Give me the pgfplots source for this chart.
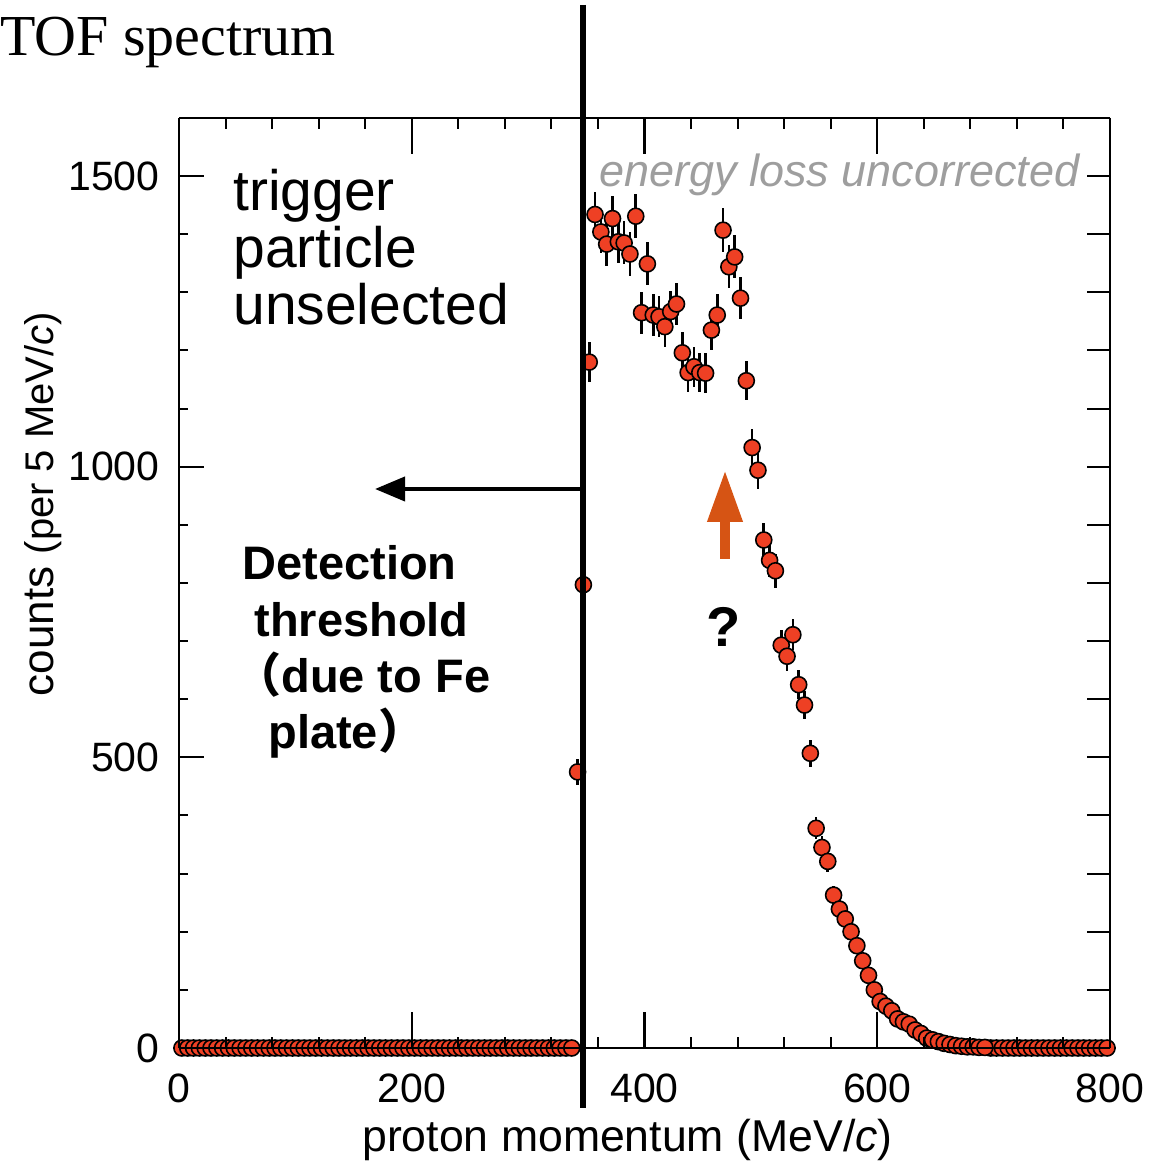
\documentclass[border=0pt]{standalone}
\usepackage{pgfplots}
\pgfplotsset{compat=1.18}
\usepackage{pgfplotstable}
\usetikzlibrary{arrows.meta}
\usepackage{fontspec}
\setmainfont{Liberation Sans}
\newfontfamily\serif{Liberation Serif}
\newfontfamily\cjk{Noto Sans CJK JP}

\definecolor{markred}{RGB}{238,64,36}
\definecolor{arroworange}{RGB}{214,84,20}

% momentum bin centre, counts per 5 MeV/c, statistical error
\pgfplotstableread{
x y e
342.5 475 22
347.5 797 28
352.5 1180 34
357.5 1434 38
362.5 1404 37
367.5 1383 37
372.5 1427 38
377.5 1387 37
382.5 1385 37
387.5 1366 37
392.5 1431 38
397.5 1265 36
402.5 1349 37
407.5 1261 36
412.5 1258 35
417.5 1241 35
422.5 1267 36
427.5 1280 36
432.5 1196 35
437.5 1162 34
442.5 1172 34
447.5 1162 34
452.5 1161 34
457.5 1235 35
462.5 1261 36
467.5 1407 38
472.5 1344 37
477.5 1361 37
482.5 1290 36
487.5 1148 34
492.5 1033 32
497.5 994 32
502.5 874 30
507.5 839 29
512.5 821 29
517.5 693 26
522.5 674 26
527.5 711 27
532.5 625 25
537.5 590 24
542.5 507 23
547.5 378 19
552.5 345 19
557.5 321 18
562.5 263 16
567.5 239 15
572.5 222 15
577.5 200 14
582.5 176 13
587.5 150 12
592.5 125 11
597.5 100 10
602.5 80 9
607.5 72 8
612.5 64 8
617.5 50 7
622.5 45 7
627.5 41 6
632.5 31 6
637.5 25 5
642.5 17 4
647.5 14 4
652.5 11 3
657.5 8 3
662.5 6 2
667.5 4 2
672.5 3 2
677.5 2 1
682.5 2 1
687.5 1 1
692.5 1 1
}\tofdata

\pgfplotsset{
  frame/.style={
    at={(89.5pt,59.5pt)}, anchor=south west,
    width=465.5pt, height=465pt, scale only axis,
    xmin=0, xmax=800, ymin=0, ymax=1600,
    tick align=inside,
    axis line style={line width=1pt, -},
    tick style={line width=1pt, black},
    tick label style={font=\fontsize{20.5}{20.5}\selectfont},
    /pgf/number format/assume math mode=true,
    /pgf/number format/1000 sep={},
  },
  xside/.style={frame, axis y line=none,
    xtick={0,200,...,800}, minor x tick num=4,
    major tick length=18pt, minor tick length=5.5pt},
  yside/.style={frame, axis x line=none},
  dots/.style={only marks, mark=*, mark size=4pt,
    mark options={fill=markred, draw=black, line width=0.8pt}},
}

\begin{document}
\begin{tikzpicture}
\useasboundingbox (0,0) rectangle (579pt,583.5pt);

% data
\begin{axis}[frame, hide axis, clip=false]
\addplot[dots] coordinates {
  (2.5,0) (7.5,0) (12.5,0) (17.5,0) (22.5,0) (27.5,0) (32.5,0) (37.5,0) (42.5,0) (47.5,0)
  (52.5,0) (57.5,0) (62.5,0) (67.5,0) (72.5,0) (77.5,0) (82.5,0) (87.5,0) (92.5,0) (97.5,0)
  (102.5,0) (107.5,0) (112.5,0) (117.5,0) (122.5,0) (127.5,0) (132.5,0) (137.5,0) (142.5,0) (147.5,0)
  (152.5,0) (157.5,0) (162.5,0) (167.5,0) (172.5,0) (177.5,0) (182.5,0) (187.5,0) (192.5,0) (197.5,0)
  (202.5,0) (207.5,0) (212.5,0) (217.5,0) (222.5,0) (227.5,0) (232.5,0) (237.5,0) (242.5,0) (247.5,0)
  (252.5,0) (257.5,0) (262.5,0) (267.5,0) (272.5,0) (277.5,0) (282.5,0) (287.5,0) (292.5,0) (297.5,0)
  (302.5,0) (307.5,0) (312.5,0) (317.5,0) (322.5,0) (327.5,0) (332.5,0) (337.5,0)
  (697.5,0) (702.5,0) (707.5,0) (712.5,0) (717.5,0) (722.5,0) (727.5,0) (732.5,0) (737.5,0) (742.5,0)
  (747.5,0) (752.5,0) (757.5,0) (762.5,0) (767.5,0) (772.5,0) (777.5,0) (782.5,0) (787.5,0) (792.5,0)
  (797.5,0)
};
\addplot[dots,
  error bars/.cd, y dir=both, y explicit,
  error bar style={line width=1.3pt, black}, error mark=none]
  table[x=x, y=y, y error=e] {\tofdata};
\end{axis}

% bottom and top x axes
\begin{axis}[xside, axis x line*=bottom,
  xticklabel style={inner sep=0pt, yshift=-12.5pt}]
\end{axis}
\begin{axis}[xside, axis x line*=top, xticklabels={}]
\end{axis}

% left and right y axes
\begin{axis}[yside, axis y line*=left,
  ytick={0,500,1000,1500}, minor y tick num=4,
  major tick length=12.5pt, minor tick length=4.5pt,
  yticklabel style={inner sep=0pt, xshift=-9.5pt}]
\end{axis}
\begin{axis}[yside, axis y line*=right,
  ytick={0,100,...,1500}, yticklabels={},
  major tick length=11.5pt]
\end{axis}

\begin{scope}[x=0.5pt, y=-0.5pt, yshift=583.5pt]
% long ticks at every 200 MeV/c, top and bottom
\foreach \t in {179,411.75,644.5,877.25,1110} {
  \draw[line width=1pt] (\t,1048) -- (\t,1012);
  \draw[line width=1pt] (\t,118) -- (\t,154);
}

\node[anchor=base west, inner sep=0, font=\serif\fontsize{29}{29}\selectfont] at (0,56) {TOF spectrum};

\begin{scope}[every node/.style={anchor=base west, inner sep=0, font=\fontsize{28.5}{28.5}\selectfont}]
\node at (233,211) {trigger};
\node at (233,268) {particle};
\node at (233,325) {unselected};
\end{scope}

\node[anchor=base east, inner sep=0, text=black!38,
  font=\itshape\fontsize{22.5}{22.5}\selectfont] at (1080,187) {energy loss uncorrected};

\begin{scope}[every node/.style={anchor=base west, inner sep=0, font=\bfseries\fontsize{23.5}{23.5}\selectfont}]
\node at (242,580) {Detection};
\node at (254,637) {threshold};
\node at (234,693) {{\cjk （}due to Fe};
\node at (268,749) {plate{\cjk ）}};
\end{scope}

\node[inner sep=0, font=\bfseries\fontsize{28}{28}\selectfont] at (724,627) {?};

\node[anchor=base, inner sep=0, font=\fontsize{22.3}{22.3}\selectfont] at (627.5,1152)
  {proton momentum (MeV/\textit{c})};
\node[anchor=base, rotate=90, inner sep=0] at (53,504)
  {\fontsize{22}{22}\selectfont counts {\fontsize{20}{20}\selectfont (per 5 MeV/\textit{c})}};

% detection threshold marker
\draw[line width=3pt] (583,5) -- (583,1108);
\draw[line width=2pt, -{Triangle[length=15pt, width=12pt]}] (583,489) -- (375,489);
\draw[line width=5pt, arroworange, -{Triangle[length=26pt, width=16.5pt]}] (725,559) -- (725,470);
\end{scope}
\end{tikzpicture}
\end{document}
